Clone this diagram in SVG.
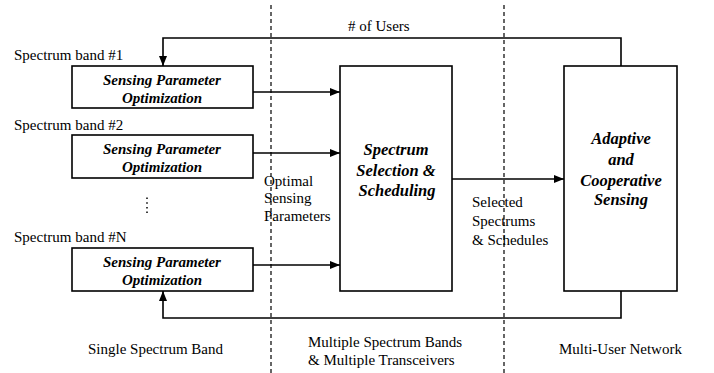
<svg xmlns="http://www.w3.org/2000/svg" width="714" height="373" viewBox="0 0 714 373">
<style>
.box{fill:#fff;stroke:#000;stroke-width:1.6}
text{font-family:'Liberation Serif','Times New Roman',serif;fill:#000}
.t{font-size:15px}
.b{font-size:15px;font-weight:bold;font-style:italic;text-anchor:middle}
.bl{font-size:16.5px;font-weight:bold;font-style:italic;text-anchor:middle}
.c{fill:none;stroke:#000;stroke-width:1.6}
.d{fill:none;stroke:#000;stroke-width:1.2;stroke-dasharray:4,3}
</style>
<defs>
<marker id="ah" markerWidth="10" markerHeight="8" refX="10" refY="4" orient="auto" markerUnits="userSpaceOnUse">
<path d="M0,0 L10,4 L0,8 z" fill="#000"/>
</marker>
</defs>
<g id="dividers">
<line class="d" x1="271" y1="5" x2="271" y2="373"/>
<line class="d" x1="504" y1="5" x2="504" y2="373"/>
</g>
<g id="connectors">
<line class="c" x1="253" y1="92" x2="340" y2="92" marker-end="url(#ah)"/>
<line class="c" x1="253" y1="153" x2="340" y2="153" marker-end="url(#ah)"/>
<line class="c" x1="253" y1="265" x2="340" y2="265" marker-end="url(#ah)"/>
<line class="c" x1="452" y1="179" x2="564" y2="179" marker-end="url(#ah)"/>
<polyline class="c" points="621,66 621,38 163,38 163,66" marker-end="url(#ah)"/>
<polyline class="c" points="621,291 621,318 163,318 163,291" marker-end="url(#ah)"/>
</g>
<g id="band1">
<text class="t" x="14" y="60">Spectrum band #1</text>
<rect class="box" x="72" y="66" width="181" height="42"/>
<text class="b" x="162" y="85">Sensing Parameter</text>
<text class="b" x="162" y="103">Optimization</text>
</g>
<g id="band2">
<text class="t" x="14" y="130">Spectrum band #2</text>
<rect class="box" x="72" y="135" width="181" height="43"/>
<text class="b" x="162" y="154">Sensing Parameter</text>
<text class="b" x="162" y="172">Optimization</text>
</g>
<g id="ellipsis">
<line x1="147" y1="197.5" x2="147" y2="215" stroke="#000" stroke-width="1.5" stroke-dasharray="1.5,3.2"/>
</g>
<g id="bandN">
<text class="t" x="14" y="242">Spectrum band #N</text>
<rect class="box" x="72" y="248" width="181" height="43"/>
<text class="b" x="162" y="267">Sensing Parameter</text>
<text class="b" x="162" y="285">Optimization</text>
</g>
<g id="selection">
<rect class="box" x="340" y="66" width="112" height="225"/>
<text class="bl" x="396" y="155">Spectrum</text>
<text class="bl" x="396" y="176">Selection &amp;</text>
<text class="bl" x="397" y="196">Scheduling</text>
</g>
<g id="adaptive">
<rect class="box" x="564" y="66" width="113" height="225"/>
<text class="bl" x="621" y="144">Adaptive</text>
<text class="bl" x="621" y="165">and</text>
<text class="bl" x="621" y="186">Cooperative</text>
<text class="bl" x="621" y="205">Sensing</text>
</g>
<g id="labels">
<text class="t" x="348" y="31">#&#160;of Users</text>
<text class="t" x="264" y="186">Optimal</text>
<text class="t" x="264" y="203">Sensing</text>
<text class="t" x="264" y="221">Parameters</text>
<text class="t" x="472" y="207">Selected</text>
<text class="t" x="472" y="226">Spectrums</text>
<text class="t" x="472" y="245">&amp; Schedules</text>
<text class="t" x="88" y="354">Single Spectrum Band</text>
<text class="t" x="308" y="347">Multiple Spectrum Bands</text>
<text class="t" x="308" y="365">&amp; Multiple Transceivers</text>
<text class="t" x="559" y="354">Multi-User Network</text>
</g>
</svg>
